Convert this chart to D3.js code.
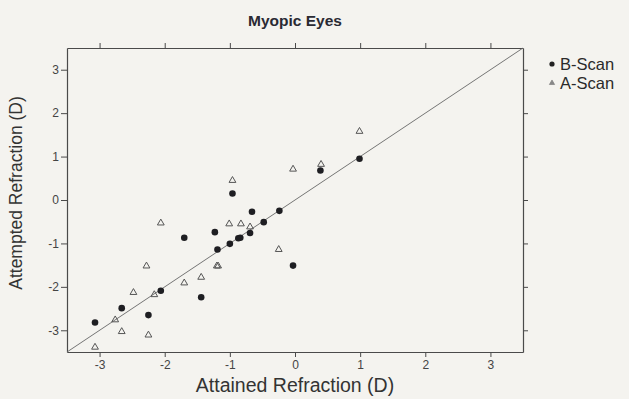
<!DOCTYPE html>
<html>
<head>
<meta charset="utf-8">
<script src="https://cdn.jsdelivr.net/npm/d3@7"></script>
<style>
  body { margin: 0; background: #f4f3ef; }
  svg { display: block; font-family: "Liberation Sans", Arial, sans-serif; }
</style>
</head>
<body>
<div id="chart"></div>
<script>
// B-Scan (filled circles): attained vs attempted refraction
const bScanX = [-3.07, -2.66, -2.25, -2.06, -1.70, -1.44, -1.23, -1.19, -1.00, -0.96, -0.87, -0.84, -0.69, -0.66, -0.48, -0.24, -0.03, 0.39, 0.99];
const bScanY = [-2.82, -2.49, -2.65, -2.09, -0.87, -2.24, -0.74, -1.14, -1.01, 0.15, -0.88, -0.87, -0.76, -0.27, -0.51, -0.25, -1.51, 0.68, 0.95];

// A-Scan (open triangles)
const aScanX = [-3.07, -2.76, -2.66, -2.48, -2.28, -2.25, -2.16, -2.06, -1.70, -1.44, -1.20, -1.18, -1.01, -0.96, -0.83, -0.69, -0.25, -0.03, 0.40, 0.99];
const aScanY = [-3.39, -2.76, -3.03, -2.13, -1.52, -3.11, -2.18, -0.53, -1.91, -1.78, -1.52, -1.52, -0.55, 0.45, -0.55, -0.62, -1.14, 0.71, 0.82, 1.58];

const tickValues = [-3, -2, -1, 0, 1, 2, 3];
const legendLabels = ["B-Scan", "A-Scan"];

const W = 629, H = 399;
const margin = { top: 48, left: 67, bottom: 47, right: 106 };
const width = W - margin.left - margin.right;
const height = H - margin.top - margin.bottom;

let svg = d3.select("#chart")
    .append("svg")
    .attr("width", W)
    .attr("height", H);

let g = svg.append("g")
    .attr("transform", `translate(${margin.left}, ${margin.top})`);

let xScale = d3.scaleLinear().domain([-3.5, 3.5]).range([0, width]);
let yScale = d3.scaleLinear().domain([-3.5, 3.5]).range([height, 0]);

// plain hyphen minus, as in the print
let fmt = d => String(d);

/* Axes, ticks outward on all four sides */
function styleAxis(sel) {
    sel.select(".domain").attr("stroke", "#4a4a4a").attr("stroke-width", 1.2);
    sel.selectAll(".tick line").attr("stroke", "#4a4a4a");
    sel.selectAll(".tick text").attr("fill", "#444").attr("font-size", 12);
}

g.append("g")
    .attr("transform", `translate(0, ${height})`)
    .call(d3.axisBottom(xScale).tickValues(tickValues).tickSize(5).tickSizeOuter(0).tickPadding(3).tickFormat(fmt))
    .call(styleAxis);

g.append("g")
    .call(d3.axisTop(xScale).tickValues(tickValues).tickSize(5).tickSizeOuter(0).tickFormat(""))
    .call(styleAxis);

g.append("g")
    .call(d3.axisLeft(yScale).tickValues(tickValues).tickSize(6).tickSizeOuter(0).tickPadding(2).tickFormat(fmt))
    .call(styleAxis);

g.append("g")
    .attr("transform", `translate(${width}, 0)`)
    .call(d3.axisRight(yScale).tickValues(tickValues).tickSize(5).tickSizeOuter(0).tickFormat(""))
    .call(styleAxis);

/* Identity line */
g.append("line")
    .attr("x1", xScale(-3.5)).attr("y1", yScale(-3.5))
    .attr("x2", xScale(3.5)).attr("y2", yScale(3.5))
    .attr("stroke", "#666")
    .attr("stroke-width", 0.9);

/* Points */
let tri = d3.symbol().type(d3.symbolTriangle).size(20);

g.selectAll(".ascan")
    .data(aScanX.map((x, i) => [x, aScanY[i]]))
    .enter()
    .append("path")
    .attr("class", "ascan")
    .attr("d", tri)
    .attr("transform", d => `translate(${xScale(d[0])}, ${yScale(d[1])})`)
    .attr("fill", "none")
    .attr("stroke", "#555")
    .attr("stroke-width", 1);

g.selectAll(".bscan")
    .data(bScanX.map((x, i) => [x, bScanY[i]]))
    .enter()
    .append("circle")
    .attr("class", "bscan")
    .attr("cx", d => xScale(d[0]))
    .attr("cy", d => yScale(d[1]))
    .attr("r", 3.3)
    .attr("fill", "#1e1e22");

/* Titles */
svg.append("text")
    .attr("x", margin.left + width / 2)
    .attr("y", 26)
    .attr("text-anchor", "middle")
    .attr("font-weight", "bold")
    .attr("font-size", 15.5)
    .attr("fill", "#2a2a33")
    .text("Myopic Eyes");

svg.append("text")
    .attr("x", margin.left + width / 2)
    .attr("y", 392)
    .attr("text-anchor", "middle")
    .attr("font-size", 19.5)
    .attr("fill", "#333")
    .text("Attained Refraction (D)");

svg.append("text")
    .attr("transform", "rotate(-90)")
    .attr("x", -193)
    .attr("y", 22)
    .attr("text-anchor", "middle")
    .attr("font-size", 17.5)
    .attr("fill", "#333")
    .text("Attempted Refraction (D)");

/* Legend */
let legend = svg.selectAll(".legend")
    .data(legendLabels)
    .enter()
    .append("g")
    .attr("class", "legend")
    .attr("transform", (d, i) => `translate(552, ${64 + i * 19})`);

legend.append("text")
    .attr("x", 8)
    .attr("y", 6)
    .attr("font-size", 16.5)
    .attr("fill", "#2a2a2a")
    .text(d => d);

legend.filter((d, i) => i === 0)
    .append("circle")
    .attr("r", 2.6)
    .attr("fill", "#222");

legend.filter((d, i) => i === 1)
    .append("path")
    .attr("d", d3.symbol().type(d3.symbolTriangle).size(12))
    .attr("fill", "#888")
    .attr("stroke", "#777")
    .attr("stroke-width", 0.6);
</script>
</body>
</html>
